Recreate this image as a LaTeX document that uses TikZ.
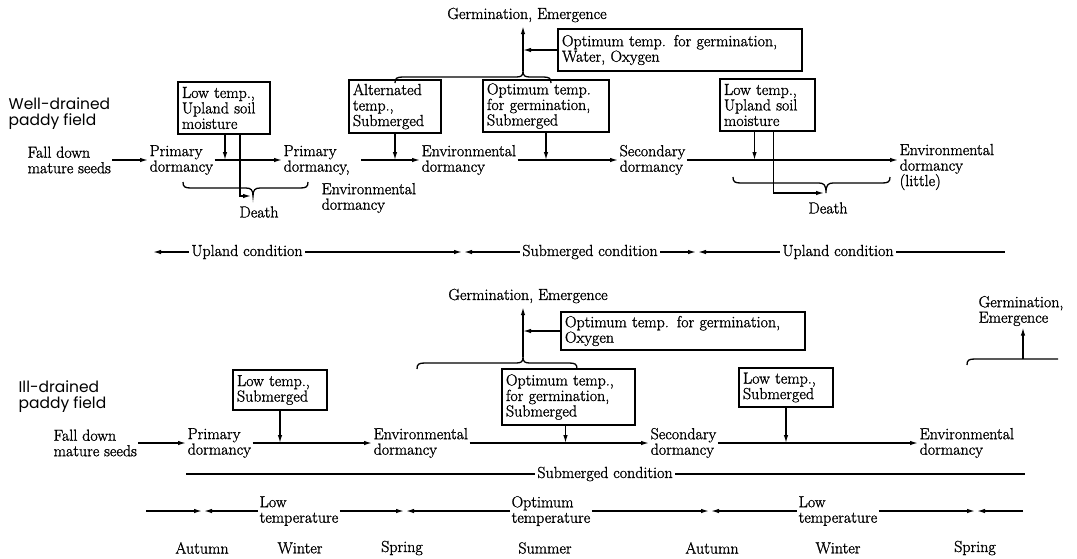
\documentclass[tikz,border=0pt]{standalone}
\usepackage{fontspec}
\setmainfont{Latin Modern Roman}[FakeBold=1.3]
\newfontfamily\fieldfont{Poppins}
\usetikzlibrary{arrows.meta}

\begin{document}
\begin{tikzpicture}[x=1pt,y=-1pt,>={Latex[length=8pt,width=4.5pt]},line width=1.3pt,
    every node/.style={font=\fontsize{16}{15.5}\selectfont},
    lbl/.style={inner sep=1pt,align=left,anchor=west},
    cond/.style={inner sep=2pt},
    factor/.style={draw,line width=1.2pt,inner xsep=4pt,inner ysep=2pt,align=left},
    field/.style={inner sep=0pt,align=left,anchor=west,font=\fieldfont\fontsize{15.5}{16}\selectfont}]
  \useasboundingbox (0,0) rectangle (1077,558);

  % well-drained paddy field
  \node[field] (wd) at (8,114) {Well-drained\\paddy field};
  \node[lbl] (fall1) at (26,160) {Fall down\\mature seeds};
  \node[lbl] (prim1) at (148,160) {Primary\\dormancy};
  \node[lbl] (prim2) at (282,160) {Primary\\dormancy,};
  \node[lbl] (envA) at (320,198) {Environmental\\dormancy};
  \node[lbl] (env1) at (420,160) {Environmental\\dormancy};
  \node[lbl] (sec1) at (618,160) {Secondary\\dormancy};
  \node[lbl] (env2) at (898,167) {Environmental\\dormancy\\(little)};
  \node (death1) at (259,212) {Death};
  \node (death2) at (828,208) {Death};
  \node (germ1) at (527,15) {Germination, Emergence};

  \node[factor,text width=84pt,minimum height=52pt] (lowA) at (224,108) {Low temp.,\\Upland soil\\moisture};
  \node[factor,text width=84pt,minimum height=53pt] (altA) at (395,106.5) {Alternated\\temp.,\\Submerged};
  \node[factor,text width=118pt,minimum height=52pt] (optA) at (546,106) {Optimum temp.\\for germination,\\Submerged};
  \node[factor,text width=236pt,minimum height=42pt] (optW) at (680,50) {Optimum temp. for germination,\\Water, Oxygen};
  \node[factor,text width=87pt,minimum height=52pt] (lowB) at (767.5,105) {Low temp.,\\Upland soil\\moisture};

  \coordinate (j1) at (225,160);
  \coordinate (dthA) at (253,196);
  \coordinate (dthB) at (826,193);
  \coordinate (tipA) at (523,71);

  \draw[->] (fall1) -- (prim1);
  \draw[->] (prim1) -- (prim2);
  \draw[->] (lowA.south -| j1) -- (j1);
  \draw[->] ([xshift=16pt]lowA.south) |- ([xshift=-2pt]dthA);
  \draw (183,182) .. controls (183,187) and (185,188) .. (191,188) -- (246,188)
        .. controls (251,188) and (253,190) .. (dthA)
        .. controls (253,190) and (255,188) .. (260,188) -- (300,188)
        .. controls (306,188) and (308,187) .. (308,182);
  \draw[->,shorten <=10pt] (prim2) -- (env1);
  \draw[->] (altA.south) -- (altA.south |- env1.west);
  \draw[->] (env1) -- (sec1);
  \draw[->] (optA.south) -- (optA.south |- sec1.west);
  \draw[->] (sec1) -- (sec1 -| env2.west);
  \draw[->] ([xshift=-13pt]lowB.south) -- ([xshift=-13pt]lowB.south |- sec1.west);
  \draw[->] ([xshift=6pt]lowB.south) |- ([xshift=-2pt]dthB);
  \draw (733,177) .. controls (733,182) and (735,183) .. (741,183) -- (819,183)
        .. controls (824,183) and (826,185) .. (dthB)
        .. controls (826,185) and (828,183) .. (833,183) -- (882,183)
        .. controls (888,183) and (890,182) .. (890,177);
  % brace to germination
  \draw (395,83) .. controls (395,78) and (397,77) .. (403,77) -- (516,77)
        .. controls (521,77) and (523,76) .. (tipA)
        .. controls (523,76) and (525,77) .. (530,77) -- (543,77)
        .. controls (549,77) and (551,78) .. (551,83);
  \draw[->] (tipA) -- (tipA |- germ1.south);
  \draw[->] (optW.west) -- (optW.west -| tipA);

  % condition
  \node[cond] (up1) at (247,252) {Upland condition};
  \node[cond] (sub1) at (590,252) {Submerged condition};
  \node[cond] (up2) at (838,252) {Upland condition};
  \coordinate (cL) at (153,252);
  \coordinate (cR) at (1005,252);
  \coordinate (m1) at (463,252);
  \coordinate (m2) at (697,252);
  \draw[->] (up1) -- (cL);
  \draw[->] (up1) -- ([xshift=-1pt]m1);
  \draw[->] (sub1) -- ([xshift=1pt]m1);
  \draw[->] (sub1) -- ([xshift=-1pt]m2);
  \draw[->] (up2) -- ([xshift=1pt]m2);
  \draw (up2) -- (cR);

  % ill-drained paddy field
  \node[field] (id) at (18,397) {Ill-drained\\paddy field};
  \node[lbl] (fall2) at (52,443) {Fall down\\mature seeds};
  \node[lbl] (prim3) at (186,443) {Primary\\dormancy};
  \node[lbl] (env3) at (372,443) {Environmental\\dormancy};
  \node[lbl] (sec2) at (649,443) {Secondary\\dormancy};
  \node[lbl] (env4) at (918,443) {Environmental\\dormancy};
  \node (germ2) at (528,296) {Germination, Emergence};
  \node[lbl] (germ3) at (977,311) {Germination,\\Emergence};

  \node[factor,text width=86pt,minimum height=40pt] (lowC) at (280,390) {Low temp.,\\Submerged};
  \node[factor,text width=125pt,minimum height=56pt] (optB) at (568.5,397) {Optimum temp.,\\for germination,\\Submerged};
  \node[factor,text width=86pt,minimum height=39pt] (lowD) at (786,387.5) {Low temp.,\\Submerged};
  \node[factor,text width=236pt,minimum height=38pt] (optO) at (683,331) {Optimum temp. for germination,\\Oxygen};

  \coordinate (tipB) at (523,357);
  \coordinate (tipC) at (1023,359);

  \draw[->] (fall2) -- (prim3);
  \draw[->] (prim3) -- (env3);
  \draw[->] (lowC.south) -- (lowC.south |- prim3.west);
  \draw[->] (env3) -- (sec2);
  \draw[->] ([xshift=-3pt]optB.south) -- ([xshift=-3pt]optB.south |- env3.west);
  \draw[->] (sec2) -- (env4);
  \draw[->] (lowD.south) -- (lowD.south |- sec2.west);
  \draw (417,369) .. controls (417,364) and (419,363) .. (425,363) -- (516,363)
        .. controls (521,363) and (523,362) .. (tipB)
        .. controls (523,362) and (525,363) .. (530,363) -- (569,363)
        .. controls (575,363) and (577,364) .. (577,369);
  \draw[->] (tipB) -- (tipB |- germ2.south);
  \draw[->] (optO.west) -- (optO.west -| tipB);
  \draw (967,365) .. controls (967,360) and (969,359) .. (975,359) -- (tipC) -- (1058,359);
  \draw[->] (tipC) -- (tipC |- germ3.south);

  \node[cond] (sub2) at (605,474) {Submerged condition};
  \coordinate (sL) at (186,474);
  \coordinate (sR) at (1025,474);
  \draw (sL) -- (sub2) -- (sR);

  % temperature
  \node[lbl] (lowT1) at (258,511) {Low\\temperature};
  \node[lbl] (optT) at (510,511) {Optimum\\temperature};
  \node[lbl] (lowT2) at (797,511) {Low\\temperature};
  \coordinate (tL) at (146,511);
  \coordinate (tR) at (1023,511);
  \coordinate (m3) at (203,511);
  \coordinate (m4) at (405,511);
  \coordinate (m5) at (710,511);
  \coordinate (m6) at (976,511);
  \draw[->] (tL) -- ([xshift=-1pt]m3);
  \draw[->] (lowT1) -- ([xshift=1pt]m3);
  \draw[->] (lowT1) -- ([xshift=-1pt]m4);
  \draw[->] (optT) -- ([xshift=1pt]m4);
  \draw[->] (optT) -- ([xshift=-1pt]m5);
  \draw[->] (lowT2) -- ([xshift=1pt]m5);
  \draw[->] (lowT2) -- ([xshift=-1pt]m6);
  \draw[->] (tR) -- ([xshift=1pt]m6);

  \foreach \s/\x [count=\i] in {Autumn/202,Winter/300,Spring/402,Summer/545,Autumn/712,Winter/838,Spring/975}
    \node (sea\i) at (\x,548) {\s};
\end{tikzpicture}
\end{document}
